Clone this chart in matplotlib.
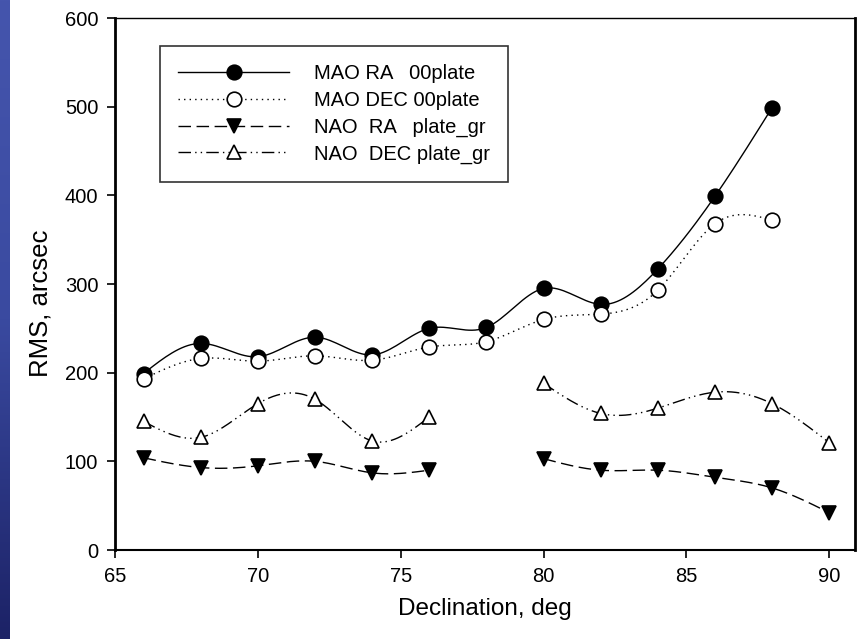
import matplotlib
matplotlib.use("Agg")
import matplotlib.pyplot as plt
import numpy as np

plt.rcParams['font.family'] = ['Liberation Sans', 'DejaVu Sans']

# declination, deg
decl = [66, 68, 70, 72, 74, 76, 78, 80, 82, 84, 86, 88, 90]

# RMS, arcsec (nan = no point)
mao_ra = [199, 233, 218, 240, 220, 250, 251, 295, 277, 317, 399, 499, np.nan]
mao_dec = [193, 216, 213, 219, 214, 229, 235, 260, 266, 293, 368, 372, np.nan]
nao_ra = [104, 93, 95, 100, 87, 90, np.nan, 103, 90, 90, 82, 70, 42]
nao_dec = [145, 127, 165, 170, 123, 150, np.nan, 188, 154, 160, 178, 165, 121]

labels = ['MAO RA   00plate', 'MAO DEC 00plate',
          'NAO  RA   plate_gr', 'NAO  DEC plate_gr']


def natural_spline(x, y, n=200):
    # natural cubic spline through the points, for the smooth curve only
    x = np.asarray(x, float)
    y = np.asarray(y, float)
    k = len(x)
    if k < 3:
        return x, y
    h = np.diff(x)
    A = np.zeros((k, k))
    b = np.zeros(k)
    A[0, 0] = A[-1, -1] = 1
    for i in range(1, k - 1):
        A[i, i - 1] = h[i - 1]
        A[i, i] = 2 * (h[i - 1] + h[i])
        A[i, i + 1] = h[i]
        b[i] = 6 * ((y[i + 1] - y[i]) / h[i] - (y[i] - y[i - 1]) / h[i - 1])
    m = np.linalg.solve(A, b)
    xs = np.linspace(x[0], x[-1], n)
    idx = np.clip(np.searchsorted(x, xs) - 1, 0, k - 2)
    x0, x1 = x[idx], x[idx + 1]
    y0, y1 = y[idx], y[idx + 1]
    m0, m1 = m[idx], m[idx + 1]
    hh = x1 - x0
    t0 = x1 - xs
    t1 = xs - x0
    ys = (m0 * t0 ** 3 + m1 * t1 ** 3) / (6 * hh) \
        + (y0 / hh - m0 * hh / 6) * t0 + (y1 / hh - m1 * hh / 6) * t1
    return xs, ys


def segments(x, y):
    x = np.asarray(x, float)
    y = np.asarray(y, float)
    ok = ~np.isnan(y)
    segs, cur = [], []
    for xi, yi, good in zip(x, y, ok):
        if good:
            cur.append((xi, yi))
        elif cur:
            segs.append(cur)
            cur = []
    if cur:
        segs.append(cur)
    return segs


fig = plt.figure(figsize=(8.6, 6.39), dpi=100)
fig.patch.set_facecolor('white')

# blue strip on the left edge
strip = fig.add_axes([0, 0, 10 / 860, 1])
grad = np.linspace(0, 1, 256).reshape(-1, 1)
strip.imshow(grad, aspect='auto', origin='lower',
             cmap=matplotlib.colors.LinearSegmentedColormap.from_list(
                 'b', ['#1c2266', '#3a4aa0', '#4555ad']))
strip.axis('off')

ax = fig.add_axes([115 / 860, 89 / 639, 740 / 860, 532 / 639])

styles = [
    dict(ls='-', marker='o', mfc='black', mec='black'),
    dict(ls=(0, (1, 3)), marker='o', mfc='white', mec='black'),
    dict(ls=(0, (9, 4)), marker='v', mfc='black', mec='black'),
    dict(ls=(0, (9, 3, 1, 3, 1, 3)), marker='^', mfc='white', mec='black'),
]
series = [mao_ra, mao_dec, nao_ra, nao_dec]

handles = []
for vals, st, lab in zip(series, styles, labels):
    for seg in segments(decl, vals):
        sx, sy = zip(*seg)
        xs, ys = natural_spline(sx, sy)
        ax.plot(xs, ys, color='black', lw=1.0, ls=st['ls'], zorder=2)
    ax.plot(decl, vals, ls='none', marker=st['marker'], ms=10.5,
            mfc=st['mfc'], mec=st['mec'], mew=1.2, zorder=3)
    h, = ax.plot([], [], color='black', lw=1.0, ls=st['ls'], marker=st['marker'],
                 ms=10.5, mfc=st['mfc'], mec=st['mec'], mew=1.2, label=lab)
    handles.append(h)

ax.set_xlim(65, 90.9)
ax.set_ylim(0, 600)
ax.set_xticks([65, 70, 75, 80, 85, 90])
ax.set_yticks([0, 100, 200, 300, 400, 500, 600])
ax.tick_params(direction='out', length=6, width=1.2, labelsize=14.5, pad=6)
ax.spines['left'].set_linewidth(2)
ax.spines['bottom'].set_linewidth(1.5)
ax.spines['right'].set_linewidth(2)
ax.spines['top'].set_linewidth(1.0)
ax.set_xlabel('Declination, deg', fontsize=17.5, labelpad=9)
ax.set_ylabel('RMS, arcsec', fontsize=18.5)
ax.yaxis.set_label_coords(-0.085, 0.464)

leg = ax.legend(handles=handles, loc='upper left', bbox_to_anchor=(0.061, 0.947),
                fontsize=14.5, frameon=True, fancybox=False, edgecolor='black',
                handlelength=5.5, handletextpad=1.25, borderpad=0.9,
                labelspacing=0.38, borderaxespad=0)
leg.get_frame().set_linewidth(1.2)

fig.savefig('out.png', dpi=100)
